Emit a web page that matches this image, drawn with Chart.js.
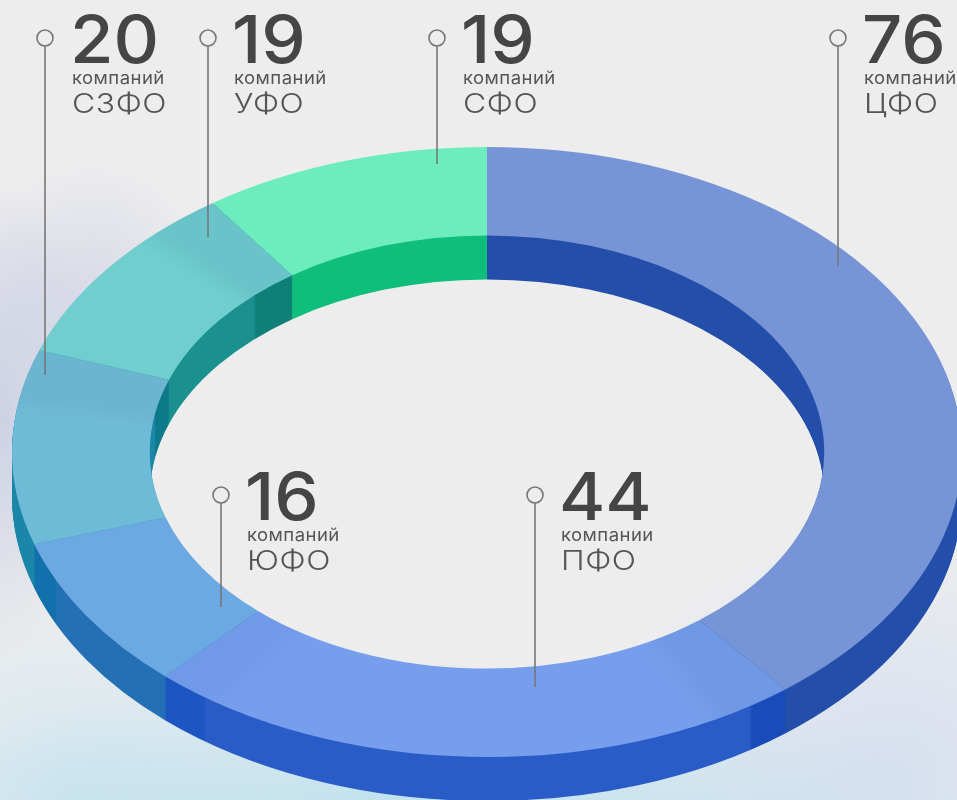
<!DOCTYPE html>
<html lang="ru"><head><meta charset="utf-8">
<script src="https://cdn.jsdelivr.net/npm/chart.js@4"></script>
<style>
html,body{margin:0;padding:0;width:957px;height:800px;overflow:hidden;background-color:#ededee;
background-image:
radial-gradient(ellipse 100px 240px at 0px 420px,rgba(186,194,222,.65),rgba(186,194,222,0)),
radial-gradient(ellipse 130px 140px at 90px 300px,rgba(196,202,224,.55),rgba(196,202,224,0)),
radial-gradient(ellipse 560px 165px at 420px 835px,rgba(178,222,238,.95),rgba(178,222,238,0)),
radial-gradient(ellipse 250px 190px at 70px 790px,rgba(200,228,240,.7),rgba(200,228,240,0)),
radial-gradient(ellipse 300px 240px at 890px 770px,rgba(205,218,240,.7),rgba(205,218,240,0));}
canvas{display:block}
</style></head><body>
<canvas id="c" width="957" height="800"></canvas>
<script>
// Data, clockwise from 12 o'clock
const regions = ['ЦФО','ПФО','ЮФО','СЗФО','УФО','СФО'];
const companies = [76,44,16,20,19,19];
const units = ['компаний','компании','компаний','компаний','компаний','компаний'];

// Colours
const topColors  = ['#7795d6','#769eec','#6ca9e2','#6ebbd8','#70cece','#6dedbe'];
const sideColors = ['#234fab','#2a5cc8','#2470b4','#1b87a8','#1a918f','#10be7c'];
const topBands   = [null,{s:8,e:6,a:'#6f99e5',b:'#7099e7'},null,{s:0,e:9,a:null,b:'#6cb5d0'},{s:0,e:8,a:null,b:'#69c3c8'},null];
const sideBands  = [null,{s:5,e:6,a:'#1a4cb9',b:'#1c56c2'},{s:0,e:7,a:null,b:'#1270ac'},{s:0,e:9,a:null,b:'#0d7a8c'},{s:0,e:8,a:null,b:'#0e8078'},null];

// Label layout (region index order)
const labelX  = [864,561,247,72,234,463];
const labelY  = [63,520,520,63,63,63];
const pinX    = [838,535,221,45,208,437];
const pinY    = [38,495,495,38,38,38];
const pinEndY = [266,687,607,375,237,164];

// Ring projection
const ringCx=487, ringCy=452, ringRx=475, ringRy=305, depth=44;
const W=957,H=800,R=400;

const canvas=document.getElementById('c');
const g=canvas.getContext('2d');
function ramp(colors,bands,fade){
  const grad=g.createConicGradient(-Math.PI/2,W/2,H/2);
  const total=companies.reduce((a,b)=>a+b,0);
  let cum=0;
  const add=(deg,col)=>grad.addColorStop(Math.min(1,Math.max(0,deg/360)),col);
  companies.forEach((v,i)=>{
    const s=cum/total*360; cum+=v; const e=cum/total*360;
    const base=colors[i], b=bands[i]||{s:0,e:0};
    if(b.s){add(s,b.a);add(s+b.s,b.a);add(s+b.s+fade,base);} else add(s,base);
    if(b.e){add(e-b.e-fade,base);add(e-b.e,b.b);add(e,b.b);} else add(e,base);
  });
  return grad;
}
const topGrad=ramp(topColors,topBands,4), sideGrad=ramp(sideColors,sideBands,0.4);

function stretched(ctx,text,x,y,sx){
  ctx.save(); ctx.translate(x,y); ctx.scale(sx,1); ctx.fillText(text,0,0); ctx.restore();
}

const ringPlugin={
  id:'ring',
  beforeDatasetsDraw(chart){
    const ctx=chart.ctx;
    const project=(dy)=>{
      ctx.translate(ringCx,ringCy+dy);
      ctx.scale(ringRx/R,ringRy/R);
      ctx.translate(-W/2,-H/2);
    };
    const arcs=chart.getDatasetMeta(0).data;
    for(let d=depth;d>=1;d--){
      ctx.save(); project(d);
      arcs.forEach(el=>{
        const o=el.options;
        el.options={backgroundColor:sideGrad,borderColor:sideGrad,borderWidth:0,borderAlign:'center',borderRadius:0,spacing:0,offset:0,circular:true,borderJoinStyle:'round',borderDash:[],borderDashOffset:0};
        el.draw(ctx);
        el.options=o;
      });
      ctx.restore();
    }
    ctx.save(); project(0);
  },
  afterDatasetsDraw(chart){ chart.ctx.restore(); },
  afterDraw(chart){
    const ctx=chart.ctx;
    ctx.save();
    regions.forEach((name,i)=>{
      ctx.strokeStyle='#777'; ctx.lineWidth=1.6;
      ctx.beginPath(); ctx.arc(pinX[i],pinY[i],8,0,Math.PI*2); ctx.stroke();
      ctx.beginPath(); ctx.moveTo(pinX[i],pinY[i]+8); ctx.lineTo(pinX[i],pinEndY[i]); ctx.stroke();
      const x=labelX[i], y=labelY[i];
      ctx.textBaseline='alphabetic'; ctx.textAlign='left';
      ctx.fillStyle='#454545'; ctx.font='500 66px Inter';
      stretched(ctx,String(companies[i]),x-2,y,1.07);
      ctx.fillStyle='#555'; ctx.font='400 17.5px Inter'; ctx.letterSpacing='0.4px';
      stretched(ctx,units[i],x,y+21,1.06);
      ctx.font='300 27.5px Inter'; ctx.letterSpacing='0.5px';
      stretched(ctx,name,x,y+50,1.16);
      ctx.letterSpacing='0px';
    });
    ctx.restore();
  }
};

new Chart(canvas,{
  type:'doughnut',
  data:{labels:regions,datasets:[{data:companies,backgroundColor:topGrad,borderWidth:0}]},
  options:{
    responsive:false,animation:false,rotation:0,cutout:'71%',
    layout:{padding:0},
    plugins:{legend:{display:false},tooltip:{enabled:false}}
  },
  plugins:[ringPlugin]
});
</script>
</body></html>
